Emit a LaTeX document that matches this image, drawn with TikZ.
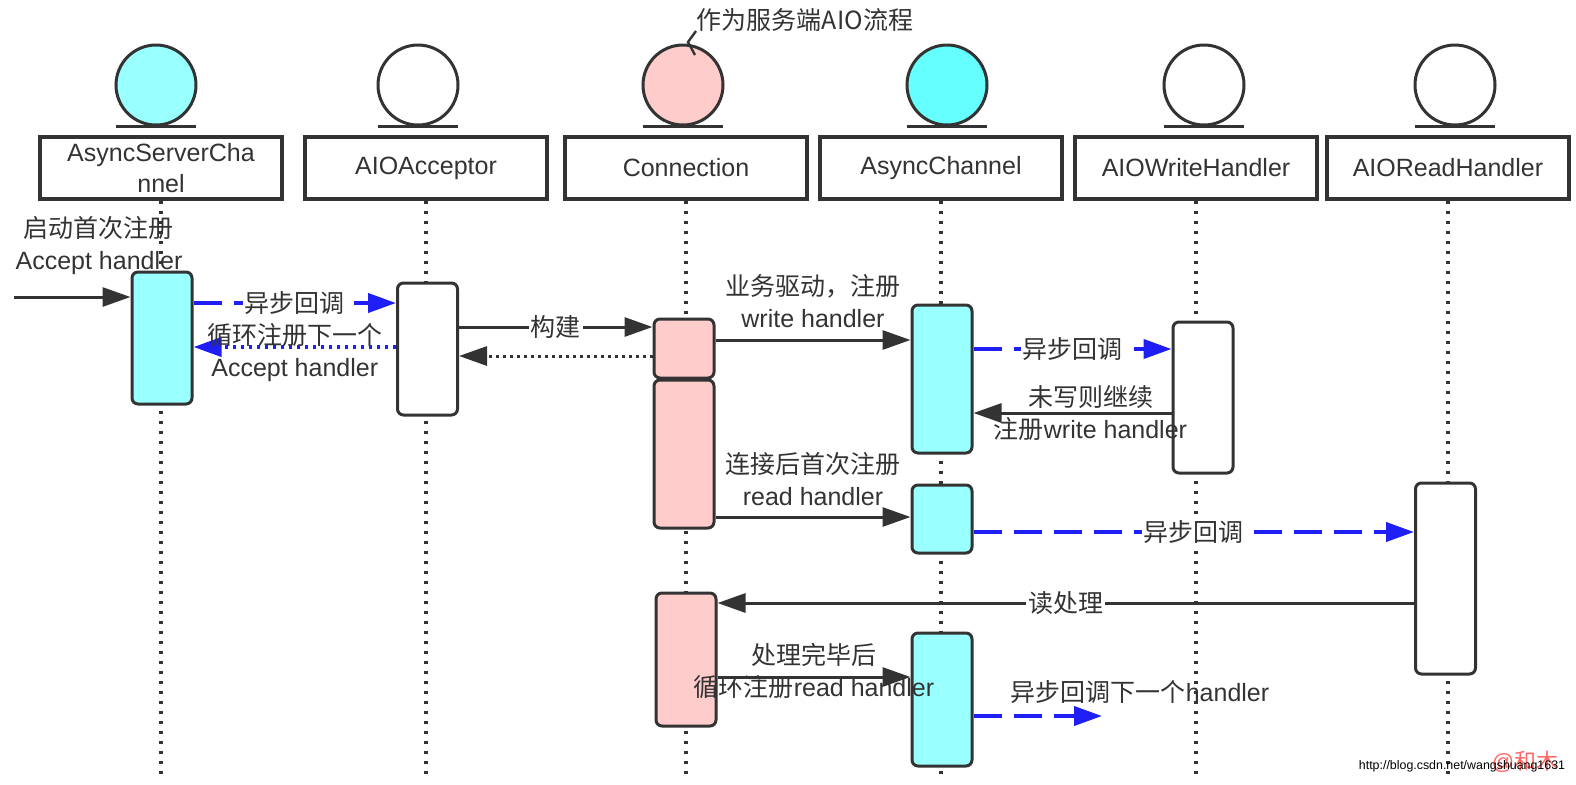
\documentclass[tikz,border=0pt]{standalone}
\usepackage{fontspec}
\setmainfont{Liberation Sans}
\newfontfamily\cjk{Noto Sans CJK SC}
\usetikzlibrary{arrows.meta}
\definecolor{linec}{HTML}{333333}
\definecolor{cyanlt}{HTML}{99FFFF}
\definecolor{cyandk}{HTML}{66FFFF}
\definecolor{pinklt}{HTML}{FFCCCC}
\definecolor{asyncblue}{HTML}{1E1EF5}
\newcommand{\zh}[1]{{\cjk #1}}

\begin{document}
\begin{tikzpicture}[x=0.5pt,y=-0.5pt,
    every node/.style={text=linec, font=\fontsize{12.5}{16}\selectfont},
    actor/.style={circle, draw=linec, line width=1.5pt, minimum size=40pt, inner sep=0pt},
    head/.style={draw=linec, line width=1.8pt, minimum width=121pt, minimum height=31pt, align=center, inner sep=0pt, font=\fontsize{12.5}{15.5}\selectfont},
    life/.style={linec, line width=1.6pt, dash pattern=on 1.6pt off 3.4pt},
    bar/.style={draw=linec, line width=1.5pt, rounded corners=3pt, minimum width=30pt, inner sep=0pt},
    msg/.style={draw=linec, line width=1.5pt, -{Triangle[length=14pt,width=9.5pt]}},
    async/.style={msg, draw=asyncblue, line width=2pt, dash pattern=on 14pt off 6pt},
    back/.style={msg, dash pattern=on 1.5pt off 2pt},
    lab/.style={fill=white, inner sep=1pt}]
  \useasboundingbox (0,0) rectangle (1576,784);

  % participants
  \foreach \n/\x/\cx/\c/\t in {ASC/161/156/cyanlt/{AsyncServerCha\\nnel}, ACC/426/418/white/AIOAcceptor,
      CON/686/683/pinklt/Connection, ACH/941/947/cyandk/AsyncChannel,
      WRH/1196/1204/white/AIOWriteHandler, RDH/1448/1455/white/AIOReadHandler} {
    \node[head] (h\n) at (\x,168) {\t};
    \node[actor, fill=\c] (o\n) at (\cx,85) {};
    \draw[linec, line width=1.8pt] ([xshift=-20pt]o\n.south) -- ([xshift=20pt]o\n.south);
    \draw[life] (h\n.south) -- (h\n.south |- 0,780);
  }
  \node (title) at (805,20) {\zh{作为服务端AIO流程}};
  \draw[linec, line width=1.2pt] (696,31) -- (688,42) -- (695,55);

  % activations
  \node[bar, fill=cyanlt, minimum height=66pt] (asc1) at (162,338) {};
  \node[bar, fill=white, minimum height=66pt] (acc1) at (427.5,349) {};
  \node[bar, fill=pinklt, minimum height=29.5pt] (con1) at (684,348.5) {};
  \node[bar, fill=pinklt, minimum height=74pt] (con2) at (684,454) {};
  \node[bar, fill=pinklt, minimum height=66.5pt] (con3) at (686,659.5) {};
  \node[bar, fill=cyanlt, minimum height=74pt] (ach1) at (942,379) {};
  \node[bar, fill=cyanlt, minimum height=34pt] (ach2) at (942,519) {};
  \node[bar, fill=cyanlt, minimum height=66.5pt] (ach3) at (942,699.5) {};
  \node[bar, fill=white, minimum height=75.5pt] (wrh1) at (1203,397.5) {};
  \node[bar, fill=white, minimum height=95.5pt] (rdh1) at (1445.5,578.5) {};

  % messages
  \coordinate (start) at (14,297);
  \draw[msg] (start) -- (start -| asc1.west);
  \node[align=center] (lstart) at (99,246) {\zh{启动首次注册}\\Accept handler};
  \draw[async] (asc1.east |- 0,303) -- node[lab] {\zh{异步回调}} (acc1.west |- 0,303);
  \draw[async, dash pattern=on 1.5pt off 2.5pt] (acc1.west |- 0,347) -- node[align=center, yshift=-3pt] {\zh{循环注册下一个}\\Accept handler} (asc1.east |- 0,347);
  \draw[msg] (acc1.east |- 0,327) -- node[lab] {\zh{构建}} (con1.west |- 0,327);
  \draw[back] (con1.west |- 0,356) -- (acc1.east |- 0,356);
  \draw[msg] (con1.east |- 0,340) -- node[align=center, yshift=19.5pt] {\zh{业务驱动，注册}\\write handler} (ach1.west |- 0,340);
  \draw[async] (ach1.east |- 0,349) -- node[lab] {\zh{异步回调}} (wrh1.west |- 0,349);
  \draw[msg] (wrh1.west |- 0,413) -- node[align=center, xshift=9pt] {\zh{未写则继续}\\\zh{注册}write handler} (ach1.east |- 0,413);
  \draw[msg] (con2.east |- 0,517) -- node[align=center, yshift=19pt] {\zh{连接后首次注册}\\read handler} (ach2.west |- 0,517);
  \draw[async] (ach2.east |- 0,532) -- node[lab] {\zh{异步回调}} (rdh1.west |- 0,532);
  \draw[msg] (rdh1.west |- 0,603) -- node[lab] {\zh{读处理}} (con3.east |- 0,603);
  \draw[msg] (con3.east |- 0,677) -- node[align=center, yshift=3pt] {\zh{处理完毕后}\\\zh{循环注册}read handler} (ach3.west |- 0,677);
  \coordinate (next) at (1102,716);
  \draw[async] (ach3.east |- next) -- (next);
  \node (lnext) at (1140,692) {\zh{异步回调下一个}handler};

  % watermark
  \node[text=red!75!white, opacity=0.8, font=\fontsize{11}{12}\selectfont] (wmark) at (1525,762) {@\zh{和木}};
  \node[text=black, font=\fontsize{6.2}{7}\selectfont] (wurl) at (1462,766) {http://blog.csdn.net/wangshuang1631};
\end{tikzpicture}
\end{document}
